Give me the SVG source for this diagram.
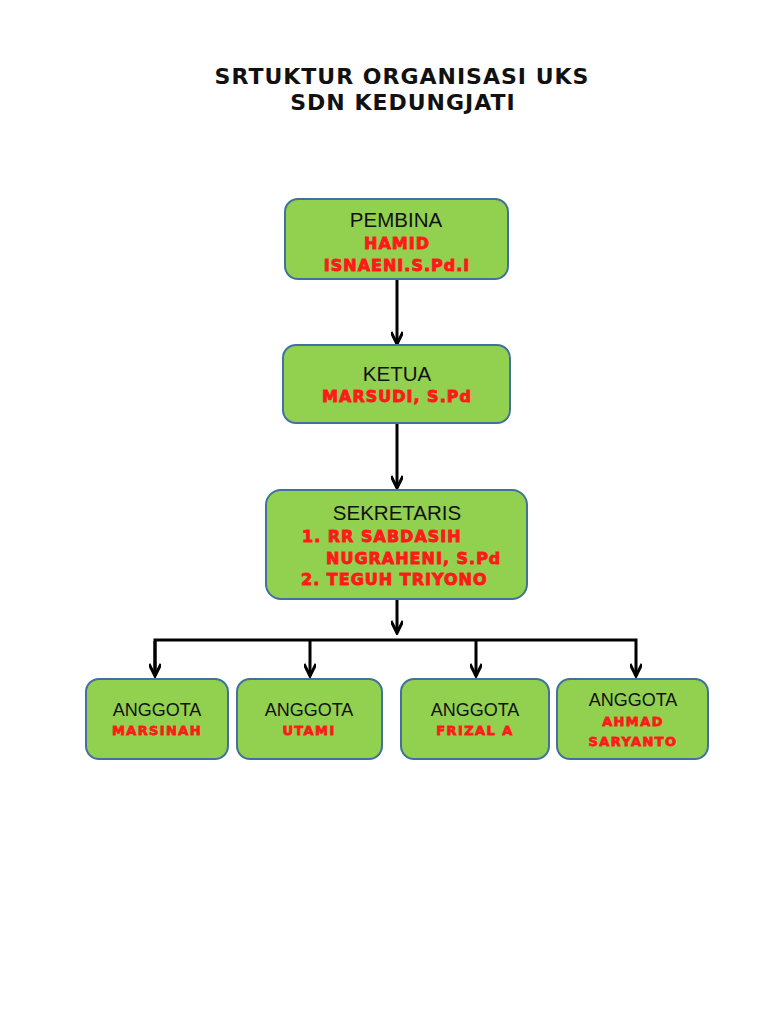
<svg xmlns="http://www.w3.org/2000/svg" width="768" height="1024" viewBox="0 0 768 1024">
<defs>
<style>
.box{fill:#92d050;stroke:#41719c;stroke-width:2}
.role{font-family:"Liberation Sans",Arial,sans-serif;font-size:20.5px;fill:#111;text-anchor:middle}
.role2{font-family:"Liberation Sans",Arial,sans-serif;font-size:18px;fill:#111;text-anchor:middle}
.name{font-family:"DejaVu Sans",Verdana,sans-serif;font-weight:bold;font-size:16px;letter-spacing:1px;fill:#ff1a1a;stroke:#ff1a1a;stroke-width:0.9;text-anchor:middle}
.nameS{font-family:"DejaVu Sans",Verdana,sans-serif;font-weight:bold;font-size:13px;letter-spacing:1.4px;fill:#ff1a1a;stroke:#ff1a1a;stroke-width:0.8;text-anchor:middle}
.title{font-family:"DejaVu Sans",Verdana,sans-serif;font-weight:bold;font-size:22px;letter-spacing:1px;fill:#111;text-anchor:middle}
.conn{fill:none;stroke:#000;stroke-width:3}
</style>
<marker id="arr" viewBox="0 0 16 12" refX="14" refY="6" markerWidth="16" markerHeight="12" markerUnits="userSpaceOnUse" orient="auto">
<path d="M2,0 L14,6 L2,12" fill="none" stroke="#000" stroke-width="3"/>
</marker>
</defs>
<rect width="768" height="1024" fill="#fff"/>
<g id="title">
<text class="title" x="402" y="84">SRTUKTUR ORGANISASI UKS</text>
<text class="title" x="403" y="110">SDN KEDUNGJATI</text>
</g>
<g id="connectors">
<path class="conn" d="M397,279 V344" marker-end="url(#arr)"/>
<path class="conn" d="M397,424 V488" marker-end="url(#arr)"/>
<path class="conn" d="M397,600 V633" marker-end="url(#arr)"/>
<path class="conn" d="M155,676 V640 H636 V676" marker-end="url(#arr)"/>
<path class="conn" d="M155,641 V676" marker-end="url(#arr)"/>
<path class="conn" d="M310,640 V676" marker-end="url(#arr)"/>
<path class="conn" d="M476,640 V676" marker-end="url(#arr)"/>
</g>
<g id="pembina">
<rect class="box" x="285" y="199" width="223" height="80" rx="13"/>
<text class="role" x="396" y="227">PEMBINA</text>
<text class="name" x="397" y="249">HAMID</text>
<text class="name" x="397" y="271">ISNAENI.S.Pd.I</text>
</g>
<g id="ketua">
<rect class="box" x="283" y="345" width="227" height="78" rx="13"/>
<text class="role" x="397" y="381">KETUA</text>
<text class="name" x="397" y="402">MARSUDI, S.Pd</text>
</g>
<g id="sekretaris">
<rect class="box" x="266" y="490" width="261" height="109" rx="15"/>
<text class="role" x="397" y="520">SEKRETARIS</text>
<text class="name" x="302" y="542" style="text-anchor:start">1. RR SABDASIH</text>
<text class="name" x="326" y="564" style="text-anchor:start">NUGRAHENI, S.Pd</text>
<text class="name" x="301" y="585" style="text-anchor:start">2. TEGUH TRIYONO</text>
</g>
<g id="anggota1">
<rect class="box" x="86" y="679" width="142" height="80" rx="13"/>
<text class="role2" x="157" y="716">ANGGOTA</text>
<text class="nameS" x="157" y="735">MARSINAH</text>
</g>
<g id="anggota2">
<rect class="box" x="237" y="679" width="145" height="80" rx="13"/>
<text class="role2" x="309" y="716">ANGGOTA</text>
<text class="nameS" x="309" y="735">UTAMI</text>
</g>
<g id="anggota3">
<rect class="box" x="401" y="679" width="148" height="80" rx="13"/>
<text class="role2" x="475" y="716">ANGGOTA</text>
<text class="nameS" x="475" y="735">FRIZAL A</text>
</g>
<g id="anggota4">
<rect class="box" x="557" y="679" width="151" height="80" rx="13"/>
<text class="role2" x="633" y="706">ANGGOTA</text>
<text class="nameS" x="633" y="726">AHMAD</text>
<text class="nameS" x="633" y="746">SARYANTO</text>
</g>
</svg>
